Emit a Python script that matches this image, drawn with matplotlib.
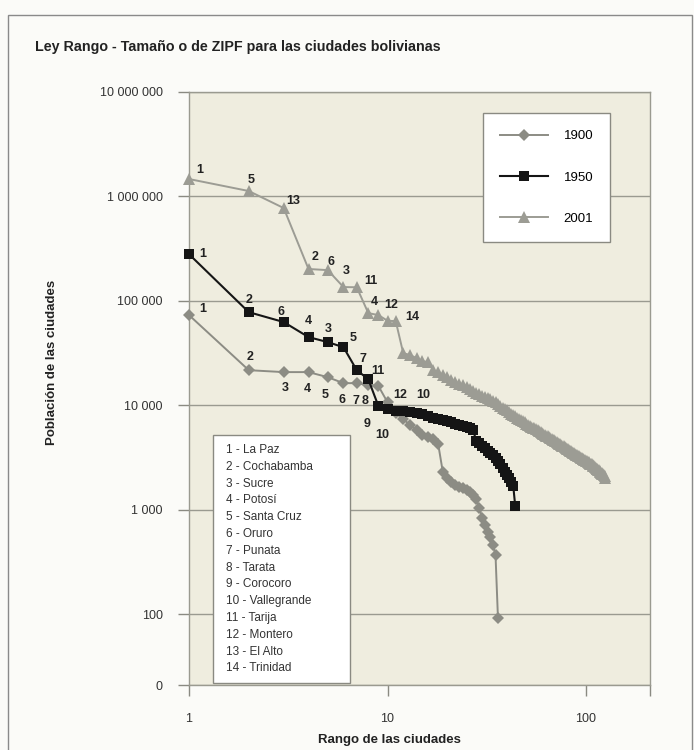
import matplotlib.pyplot as plt
import numpy as np
from matplotlib.patches import Rectangle

plt.rcParams['font.family'] = ['Liberation Sans', 'DejaVu Sans']

# Población por rango (lectura del gráfico)
pop_1900 = [73100, 21700, 20800, 20800, 18600, 16300, 16300, 15600, 15300, 10700,
            8420, 7380, 6460, 5790, 5190, 4960, 4750, 4250, 2290, 2010,
            1840, 1720, 1650, 1610, 1540, 1480, 1380, 1260, 1040, 830,
            710, 610, 547, 458, 367, 92]

pop_1950 = [280000, 78000, 62700, 45000, 40300, 36000, 21700, 17800, 9820, 9200,
            8800, 8800, 8610, 8420, 8240, 7880, 7540, 7380, 7220, 7060,
            6910, 6610, 6460, 6320, 6180, 6050, 5790, 4540, 4350, 4070,
            3890, 3640, 3480, 3330, 3120, 2920, 2730, 2500, 2290, 2140,
            2010, 1840, 1680, 1080]

pop_2001 = [1468000, 1127000, 774000, 202000, 197000, 135600, 135000, 76400, 73100, 64500,
            64000, 31600, 30300, 28300, 26500, 25900, 21700, 20700, 19600, 18600,
            17500, 16700, 16100, 15500, 15000, 14400, 13700, 13200, 12700, 12300,
            12000, 11700, 11400, 11000, 10700, 10400, 9930, 9460, 9190, 9000,
            8650, 8320, 8040, 7820, 7640, 7400, 7210, 7030, 6850, 6690,
            6520, 6370, 6240, 6110, 6000, 5890, 5750, 5650, 5550, 5450,
            5350, 5240, 5140, 5050, 4950, 4850, 4770, 4690, 4610, 4530,
            4460, 4390, 4310, 4240, 4170, 4100, 4040, 3980, 3910, 3850,
            3800, 3740, 3680, 3630, 3580, 3530, 3480, 3430, 3380, 3340,
            3290, 3240, 3210, 3160, 3130, 3090, 3050, 3010, 2970, 2940,
            2910, 2870, 2840, 2810, 2770, 2740, 2720, 2690, 2640, 2600,
            2560, 2520, 2480, 2440, 2400, 2380, 2340, 2300, 2270, 2240,
            2210, 2180, 2150, 2100, 2000]

# etiquetas de ciudad: (serie, rango, texto, dx, dy) desplazamiento en pixeles
etiquetas = [
    ('2001', 1, '1', 11, -9), ('2001', 2, '5', 2, -11), ('2001', 3, '13', 10, -7),
    ('2001', 4, '2', 7, -12), ('2001', 5, '6', 3, -8), ('2001', 6, '3', 3, -16),
    ('2001', 7, '11', 14, -6), ('2001', 8, '4', 6, -11), ('2001', 9, '12', 13, -10),
    ('2001', 11, '14', 17, -4),
    ('1950', 1, '1', 14, 0), ('1950', 2, '2', 0, -12), ('1950', 3, '6', -3, -10),
    ('1950', 4, '4', 0, -16), ('1950', 5, '3', 1, -13), ('1950', 6, '5', 10, -9),
    ('1950', 7, '7', 6, -11), ('1950', 8, '11', 10, -8), ('1950', 9, '9', -11, 18),
    ('1950', 10, '10', -5, 26), ('1950', 11, '12', 4, -16), ('1950', 14, '10', 7, -18),
    ('1900', 1, '1', 14, -6), ('1900', 2, '2', 1, -13), ('1900', 3, '3', 2, 16),
    ('1900', 4, '4', -1, 17), ('1900', 5, '5', -3, 18), ('1900', 6, '6', -1, 17),
    ('1900', 7, '7', -1, 18), ('1900', 8, '8', -3, 16),
]

ciudades = ['1 - La Paz', '2 - Cochabamba', '3 - Sucre', '4 - Potosí', '5 - Santa Cruz',
            '6 - Oruro', '7 - Punata', '8 - Tarata', '9 - Corocoro', '10 - Vallegrande',
            '11 - Tarija', '12 - Montero', '13 - El Alto', '14 - Trinidad']

series = {'1900': pop_1900, '1950': pop_1950, '2001': pop_2001}
estilos = {
    '1900': dict(color='#8c8c84', marker='D', markersize=6.2, lw=1.4),
    '1950': dict(color='#151515', marker='s', markersize=7.2, lw=1.5),
    '2001': dict(color='#9c9c94', marker='^', markersize=8, lw=1.4),
}

W, H = 694, 750
fig = plt.figure(figsize=(W / 100, H / 100), dpi=100)
fig.patch.set_facecolor('#fbfbf8')
ax = fig.add_axes([189 / W, 1 - 685 / H, (650 - 189) / W, (685 - 92) / H])
ax.set_facecolor('#efeddf')

for nombre in ['1900', '1950', '2001']:
    pop = series[nombre]
    rango = np.arange(1, len(pop) + 1)
    ax.plot(rango, pop, label=nombre, clip_on=False, zorder=3,
            markeredgewidth=0, **estilos[nombre])

for nombre, r, txt, dx, dy in etiquetas:
    ax.annotate(txt, (r, series[nombre][r - 1]), xytext=(dx, -dy),
                textcoords='offset pixels', ha='center', va='center',
                fontsize=9, fontweight='bold', color='#222222', zorder=4)

ax.set_xscale('log')
ax.set_yscale('log')
xmax = 210
ybot = 21
ax.set_xlim(1, xmax)
ax.set_ylim(ybot, 1e7)

ax.set_xticks([1, 10, 100, xmax])
ax.set_xticklabels(['1', '10', '100', ''])
ax.set_yticks([ybot, 1e2, 1e3, 1e4, 1e5, 1e6, 1e7])
ax.set_yticklabels(['0', '100', '1 000', '10 000', '100 000', '1 000 000', '10 000 000'])
ax.minorticks_off()
ax.tick_params(axis='both', length=8, width=1, color='#8a8a82', labelsize=9,
               labelcolor='#333333')
ax.tick_params(axis='x', pad=12)
ax.tick_params(axis='y', pad=11)
ax.grid(axis='y', color='#9a9a90', lw=1)
for s in ax.spines.values():
    s.set_color('#9a9a90')
    s.set_linewidth(1)

leg = ax.legend(loc='upper left', bbox_to_anchor=(483 / W, 1 - 113 / H),
                bbox_transform=fig.transFigure, borderaxespad=0, fontsize=9.5,
                handlelength=3.6, handletextpad=1.2, labelspacing=2.2,
                borderpad=1.3, fancybox=False, framealpha=1, edgecolor='#8a8a82')
leg.get_frame().set_linewidth(1)
leg.set_zorder(5)

# recuadro con los nombres de ciudades
fig.add_artist(Rectangle((213 / W, 1 - 683 / H), (350 - 213) / W, (683 - 435) / H,
                         transform=fig.transFigure, facecolor='white',
                         edgecolor='#8a8a82', lw=1, zorder=5))
for i, c in enumerate(ciudades):
    fig.text(226 / W, 1 - (450 + i * 16.8) / H, c, fontsize=8.5, color='#333333',
             va='center', ha='left', zorder=6)

fig.text(35 / W, 1 - 47 / H, 'Ley Rango - Tamaño o de ZIPF para las ciudades bolivianas',
         fontsize=10.3, fontweight='bold', color='#222222', va='center')
fig.text(52 / W, 1 - 362 / H, 'Población de las ciudades', rotation=90,
         fontsize=9.5, fontweight='bold', color='#222222', va='center', ha='center')
fig.text(389 / W, 1 - 740 / H, 'Rango de las ciudades', fontsize=9.5,
         fontweight='bold', color='#222222', va='center', ha='center')

fig.add_artist(Rectangle((8 / W, -0.01), (692 - 8) / W, 1 - 15 / H + 0.01,
                         transform=fig.transFigure, fill=False,
                         edgecolor='#8a8a8a', lw=1))

fig.savefig('out.png', dpi=100, facecolor=fig.get_facecolor())
